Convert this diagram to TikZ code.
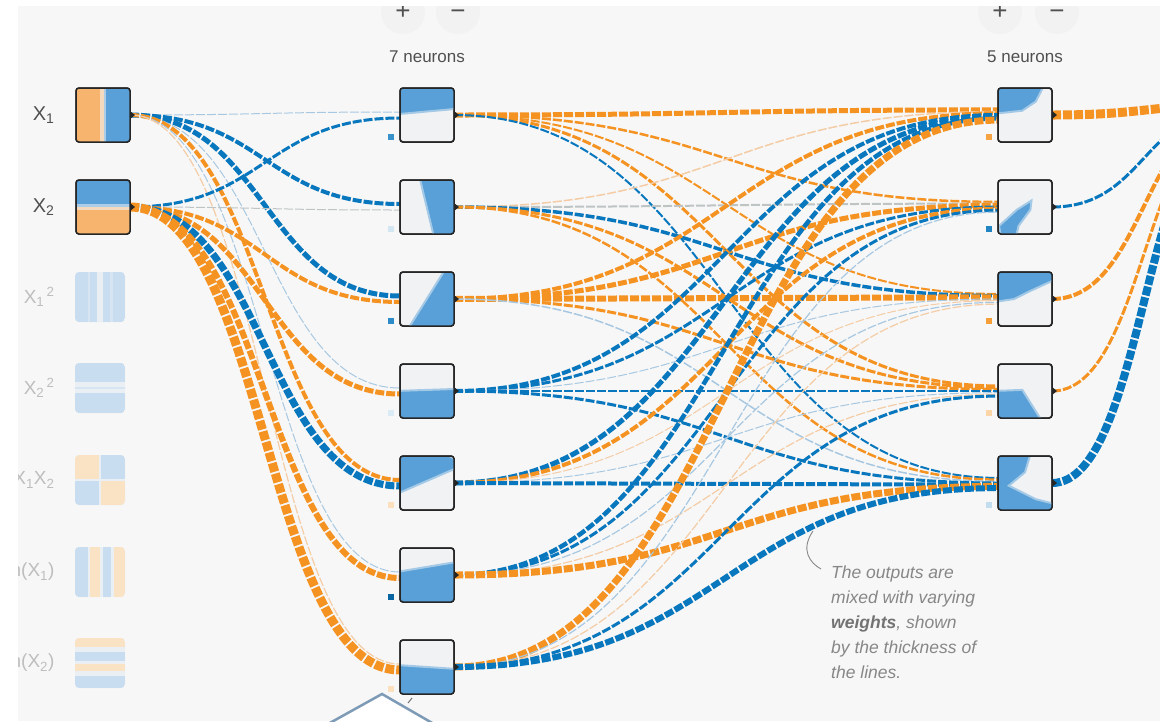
\documentclass[tikz,border=0pt]{standalone}
\usepackage{fontspec}
\setmainfont{Liberation Sans}
\usetikzlibrary{calc}

\definecolor{panel}{RGB}{247,247,247}
\definecolor{wneg}{RGB}{245,147,34}
\definecolor{wpos}{RGB}{8,119,189}
\definecolor{posweak}{RGB}{244,204,165}
\definecolor{negweak}{RGB}{168,200,226}
\definecolor{neutral}{RGB}{190,196,196}
\definecolor{heatneg}{RGB}{88,160,215}
\definecolor{heatpos}{RGB}{247,180,110}
\definecolor{heatzero}{RGB}{240,242,244}
\definecolor{fadeneg}{RGB}{200,222,240}
\definecolor{fadepos}{RGB}{250,226,196}
\definecolor{fadezero}{RGB}{234,239,244}
\definecolor{labelgray}{RGB}{80,80,80}
\definecolor{fadegray}{RGB}{190,190,190}
\definecolor{notegray}{RGB}{135,135,135}
\definecolor{callout}{RGB}{125,155,182}

\pgfdeclarelayer{bg}
\pgfdeclarelayer{wires}
\pgfsetlayers{bg,wires,main}

\tikzset{
  neuron/.style={draw=black!85, line width=1.5pt, rounded corners=3pt, fill=heatzero,
    minimum size=54pt, inner sep=0pt, outer sep=0pt},
  frame/.style={draw=black!85, line width=1.5pt, rounded corners=3pt},
  feature/.style={rounded corners=4pt, fill=fadezero, minimum size=50pt, inner sep=0pt, outer sep=0pt},
  blob/.style={fill=heatneg, draw=heatneg!50!heatzero, line width=2pt},
  wire/.style={dash pattern=on 9pt off 2pt},
  bias/.style={minimum size=6pt, inner sep=0pt, outer sep=0pt},
  knob/.style={fill=black!85},
  inlabel/.style={anchor=east, text=labelgray, font=\fontsize{20}{20}\selectfont},
  fadelabel/.style={anchor=east, text=fadegray, font=\fontsize{19}{19}\selectfont},
  layertitle/.style={text=labelgray, font=\fontsize{17}{17}\selectfont},
  btn/.style={circle, fill=black!5, minimum size=44pt, inner sep=0pt, text height=14pt, text depth=0pt,
    text=labelgray, font=\fontsize{26}{26}\selectfont},
  note/.style={align=left, inner sep=0pt, text=notegray, font=\itshape\fontsize{17.5}{25}\selectfont},
}

% from, to, target offset, colour, width
\newcommand{\link}[5]{%
  \draw[wire, draw=#4, line width=#5pt] let \p1=(#1.east), \p2=($(#2.west)+(0,#3)$) in
    (\p1) .. controls ({0.5*\x1+0.5*\x2},\y1) and ({0.5*\x1+0.5*\x2},\y2) .. (\p2);}
% node, fills in the unit square (y down)
\newcommand{\neuronheat}[2]{%
  \begin{scope}
    \clip[rounded corners=3pt] (#1.north west) rectangle (#1.south east);
    \begin{scope}[shift={(#1.north west)}, x=54pt, y=-54pt] #2 \end{scope}
  \end{scope}
  \draw[frame] (#1.north west) rectangle (#1.south east);}
\newcommand{\featureheat}[2]{%
  \begin{scope}
    \clip[rounded corners=4pt] (#1.north west) rectangle (#1.south east);
    \begin{scope}[shift={(#1.north west)}, x=50pt, y=-50pt] #2 \end{scope}
  \end{scope}}

\begin{document}
\begin{tikzpicture}[x=1pt, y=-1pt]
\useasboundingbox (0,0) rectangle (1160,721);
\begin{pgfonlayer}{bg}
  \fill[panel] (0,0) rectangle (1160,721);
\end{pgfonlayer}

% buttons and titles
\node[btn] (add1) at (403,12) {+};
\node[btn] (del1) at (458,12) {−};
\node[btn] (add2) at (1000,12) {+};
\node[btn] (del2) at (1057,12) {−};
\node[layertitle] (t1) at (427,57) {7 neurons};
\node[layertitle] (t2) at (1025,57) {5 neurons};

% input features
\node[neuron] (x1) at (103,115) {};
\node[neuron] (x2) at (103,207) {};
\node[feature] (f1) at (100,297) {};
\node[feature] (f2) at (100,388) {};
\node[feature] (f3) at (100,480) {};
\node[feature] (f4) at (100,572) {};
\node[feature] (f5) at (100,663) {};

\neuronheat{x1}{\fill[heatpos] (0,0) rectangle (0.45,1);
    \fill[heatpos!40!heatzero] (0.45,0) rectangle (0.51,1);
    \fill[heatneg!45!heatzero] (0.51,0) rectangle (0.56,1);
    \fill[heatneg] (0.56,0) rectangle (1,1);}
\neuronheat{x2}{\fill[heatneg] (0,0) rectangle (1,0.45);
    \fill[heatneg!45!heatzero] (0,0.45) rectangle (1,0.5);
    \fill[heatpos!40!heatzero] (0,0.5) rectangle (1,0.55);
    \fill[heatpos] (0,0.55) rectangle (1,1);}
\featureheat{f1}{\fill[fadeneg] (0,0) rectangle (1,1);
    \fill[fadezero] (0.44,0) rectangle (0.56,1);
    \fill[fadeneg!60!fadezero] (0.25,0) rectangle (0.3,1);
    \fill[fadeneg!60!fadezero] (0.7,0) rectangle (0.75,1);}
\featureheat{f2}{\fill[fadeneg] (0,0) rectangle (1,1);
    \fill[fadezero] (0,0.38) rectangle (1,0.6);
    \fill[fadeneg!60!fadezero] (0,0.47) rectangle (1,0.51);}
\featureheat{f3}{\fill[fadepos] (0,0) rectangle (0.48,0.48);
    \fill[fadeneg] (0.52,0) rectangle (1,0.48);
    \fill[fadeneg] (0,0.52) rectangle (0.48,1);
    \fill[fadepos] (0.52,0.52) rectangle (1,1);}
\featureheat{f4}{\fill[fadeneg] (0,0) rectangle (0.25,1);
    \fill[fadepos] (0.3,0) rectangle (0.5,1);
    \fill[fadeneg] (0.55,0) rectangle (0.72,1);
    \fill[fadepos] (0.77,0) rectangle (1,1);}
\featureheat{f5}{\fill[fadepos] (0,0) rectangle (1,0.17);
    \fill[fadeneg] (0,0.27) rectangle (1,0.45);
    \fill[fadepos] (0,0.52) rectangle (1,0.65);
    \fill[fadeneg] (0,0.75) rectangle (1,1);}

\node[inlabel] (x1lab) at (58,115) {X\textsubscript{1}};
\node[inlabel] (x2lab) at (58,207) {X\textsubscript{2}};
\node[fadelabel] (f1lab) at (58,297) {X\textsubscript{1}\textsuperscript{\,2}};
\node[fadelabel] (f2lab) at (58,388) {X\textsubscript{2}\textsuperscript{\,2}};
\node[fadelabel] (f3lab) at (58,480) {X\textsubscript{1}X\textsubscript{2}};
\node[fadelabel] (f4lab) at (58,572) {sin(X\textsubscript{1})};
\node[fadelabel] (f5lab) at (58,663) {sin(X\textsubscript{2})};

% first hidden layer
\node[neuron] (h1) at (427,115) {};
\node[neuron] (h2) at (427,207) {};
\node[neuron] (h3) at (427,299) {};
\node[neuron] (h4) at (427,391) {};
\node[neuron] (h5) at (427,483) {};
\node[neuron] (h6) at (427,575) {};
\node[neuron] (h7) at (427,667) {};
\neuronheat{h1}{\path[blob] (-0.1,-0.1) -- (1.1,-0.1) -- (1.1,0.38) -- (-0.1,0.49) -- cycle;}
\neuronheat{h2}{\path[blob] (0.35,-0.1) -- (1.1,-0.1) -- (1.1,1.1) -- (0.64,1.1) -- cycle;}
\neuronheat{h3}{\path[blob] (0.87,-0.1) -- (1.1,-0.1) -- (1.1,1.1) -- (0.12,1.1) -- cycle;}
\neuronheat{h4}{\path[blob] (-0.1,0.5) -- (1.1,0.46) -- (1.1,1.1) -- (-0.1,1.1) -- cycle;}
\neuronheat{h5}{\path[blob] (-0.1,-0.1) -- (0.72,-0.1) -- (1.1,0.1) -- (1.1,0.2) -- (-0.1,0.72) -- cycle;}
\neuronheat{h6}{\path[blob] (-0.1,0.45) -- (1.1,0.25) -- (1.1,1.1) -- (-0.1,1.1) -- cycle;}
\neuronheat{h7}{\path[blob] (-0.1,0.46) -- (1.1,0.54) -- (1.1,1.1) -- (-0.1,1.1) -- cycle;}

% second hidden layer
\node[neuron] (k1) at (1025,115) {};
\node[neuron] (k2) at (1025,207) {};
\node[neuron] (k3) at (1025,299) {};
\node[neuron] (k4) at (1025,391) {};
\node[neuron] (k5) at (1025,483) {};
\neuronheat{k1}{\path[blob] (-0.1,-0.1) -- (0.88,-0.1) -- (0.7,0.25) -- (0.45,0.42) -- (-0.1,0.48) -- cycle;}
\neuronheat{k2}{\path[blob] (0.06,1.1) -- (0.02,0.85) -- (0.35,0.55) -- (0.62,0.38) -- (0.6,0.55) -- (0.38,0.85) -- (0.32,1.1) -- cycle;}
\neuronheat{k3}{\path[blob] (-0.1,-0.1) -- (1.1,-0.1) -- (1.1,0.12) -- (0.6,0.35) -- (0.3,0.5) -- (-0.1,0.56) -- cycle;}
\neuronheat{k4}{\path[blob] (-0.1,0.5) -- (0.45,0.48) -- (0.84,1.1) -- (-0.1,1.1) -- cycle;}
\neuronheat{k5}{\path[blob] (-0.1,-0.1) -- (0.62,-0.1) -- (0.5,0.3) -- (0.2,0.55) -- (0.7,0.8) -- (1.1,0.9) -- (1.1,1.1) -- (-0.1,1.1) -- cycle;}

\node[inner sep=0pt, outer sep=0pt] (out) at (1238,110) {};

\foreach \n in {x1,x2,h1,h2,h3,h4,h5,h6,h7,k1,k2,k3,k4,k5}
  \fill[knob] ($(\n.east)+(0,-4)$) -- ($(\n.east)+(5,0)$) -- ($(\n.east)+(0,4)$) -- cycle;

% biases
\node[bias, fill=wpos!80] (h1b) at ($(h1.south west)+(-9,-5)$) {};
\node[bias, fill=wpos!18] (h2b) at ($(h2.south west)+(-9,-5)$) {};
\node[bias, fill=wpos!85] (h3b) at ($(h3.south west)+(-9,-5)$) {};
\node[bias, fill=wpos!15] (h4b) at ($(h4.south west)+(-9,-5)$) {};
\node[bias, fill=wneg!30] (h5b) at ($(h5.south west)+(-9,-5)$) {};
\node[bias, fill=wpos!85!black] (h6b) at ($(h6.south west)+(-9,-5)$) {};
\node[bias, fill=wneg!30] (h7b) at ($(h7.south west)+(-9,-5)$) {};
\node[bias, fill=wneg!85] (k1b) at ($(k1.south west)+(-9,-5)$) {};
\node[bias, fill=wpos!90] (k2b) at ($(k2.south west)+(-9,-5)$) {};
\node[bias, fill=wneg!90] (k3b) at ($(k3.south west)+(-9,-5)$) {};
\node[bias, fill=wneg!40] (k4b) at ($(k4.south west)+(-9,-5)$) {};
\node[bias, fill=wpos!25] (k5b) at ($(k5.south west)+(-9,-5)$) {};

\begin{pgfonlayer}{wires}
% inputs to first layer
\link{x1}{h1}{-3}{negweak}{1}
\link{x1}{h2}{-3}{wpos}{4}
\link{x1}{h3}{-3}{wpos}{5}
\link{x1}{h4}{-3}{negweak}{1}
\link{x1}{h5}{-3}{wneg}{4}
\link{x1}{h6}{-3}{negweak}{1}
\link{x1}{h7}{-3}{posweak}{1.2}
\link{x2}{h1}{3}{wpos}{3}
\link{x2}{h2}{3}{neutral}{1}
\link{x2}{h3}{3}{wneg}{4}
\link{x2}{h4}{3}{wneg}{5}
\link{x2}{h5}{3}{wpos}{7}
\link{x2}{h6}{3}{wneg}{6}
\link{x2}{h7}{3}{wneg}{9}
% first layer to second layer
\link{h1}{k1}{-5.1}{wneg}{5}
\link{h1}{k2}{-5.1}{wneg}{2.5}
\link{h1}{k3}{-5.1}{wneg}{2}
\link{h1}{k4}{-5.1}{wneg}{3}
\link{h1}{k5}{-5.1}{wpos}{2}
\link{h2}{k1}{-3.4}{posweak}{1.5}
\link{h2}{k2}{-3.4}{neutral}{2}
\link{h2}{k3}{-3.4}{wpos}{3.5}
\link{h2}{k4}{-3.4}{wneg}{3}
\link{h2}{k5}{-3.4}{wneg}{2.5}
\link{h3}{k1}{-1.7}{wneg}{4}
\link{h3}{k2}{-1.7}{wneg}{5}
\link{h3}{k3}{-1.7}{wneg}{6}
\link{h3}{k4}{-1.7}{wneg}{3}
\link{h3}{k5}{-1.7}{negweak}{1.5}
\link{h4}{k1}{0}{wpos}{4}
\link{h4}{k2}{0}{wpos}{3}
\link{h4}{k3}{0}{negweak}{1}
\link{h4}{k4}{0}{wpos}{2.5}
\link{h4}{k5}{0}{wpos}{3}
\link{h5}{k1}{1.7}{wpos}{5}
\link{h5}{k2}{1.7}{wneg}{4}
\link{h5}{k3}{1.7}{posweak}{1}
\link{h5}{k4}{1.7}{negweak}{1}
\link{h5}{k5}{1.7}{wpos}{4}
\link{h6}{k1}{3.4}{wpos}{4.5}
\link{h6}{k2}{3.4}{wpos}{3}
\link{h6}{k3}{3.4}{negweak}{1.2}
\link{h6}{k4}{3.4}{posweak}{1.2}
\link{h6}{k5}{3.4}{wneg}{7}
\link{h7}{k1}{5.1}{wneg}{7}
\link{h7}{k2}{5.1}{negweak}{1.2}
\link{h7}{k3}{5.1}{posweak}{1.2}
\link{h7}{k4}{5.1}{wpos}{3}
\link{h7}{k5}{5.1}{wpos}{6}
% second layer to output
\link{k1}{out}{-4.8}{wneg}{9}
\link{k2}{out}{-2.4}{wpos}{3}
\link{k3}{out}{0}{wneg}{4}
\link{k4}{out}{2.4}{wneg}{3}
\link{k5}{out}{4.8}{wpos}{8}
\end{pgfonlayer}

% note
\node[note, anchor=north west] (note) at (831,566) {The outputs are\\mixed with varying\\\textbf{\color{black!55}weights}, shown\\by the thickness of\\the lines.};
\draw[notegray, line width=0.9pt] (813,531) .. controls (800,550) and (810,563) .. (821,569);
\draw[black!55, line width=1pt] (408,703) -- (412,698);

% page margins
\fill[white] (0,0) rectangle (18,721);
\fill[white] (0,0) rectangle (1160,6);

% callout
\draw[callout, fill=white, line width=2.5pt] (328,724) -- (382,694) -- (434,724);
\end{tikzpicture}
\end{document}
